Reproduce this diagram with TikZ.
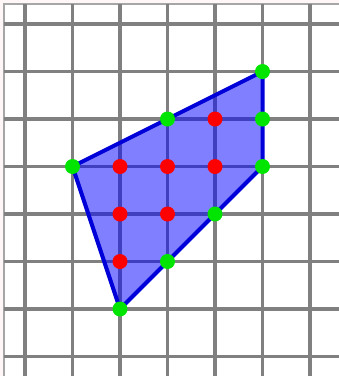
\documentclass[tikz,border=0pt]{standalone}
\begin{document}
\begin{tikzpicture}[x=1pt,y=-1pt,
  gridline/.style={draw=gray, line width=3.3pt},
  frameline/.style={draw=gray!70, line width=2.5pt},
  poly/.style={draw=blue!85!black, line width=4pt, fill=blue, fill opacity=0.5, line join=round},
  bnd/.style={circle, fill=green!90!black, inner sep=0pt, minimum size=15pt},
  inn/.style={circle, fill=red, inner sep=0pt, minimum size=15pt}]
\fill[red!3] (0,0) rectangle (339,376);
\fill[white] (4,4) rectangle (339,376);
\useasboundingbox (0,0) rectangle (339,376);
% frame
\draw[frameline] (4,376) -- (4,4) -- (339,4);
% grid
\foreach \i in {0,...,6} \draw[gridline] (25+47.5*\i,4) -- (25+47.5*\i,376);
\foreach \j in {0,...,7} \draw[gridline] (4,24+47.5*\j) -- (339,24+47.5*\j);
% lattice coordinates
\foreach \i in {0,...,6} \foreach \j in {0,...,7}
  \coordinate (p\i\j) at (25+47.5*\i,24+47.5*\j);
% polygon
\draw[poly] (p13) -- (p51) -- (p53) -- (p26) -- cycle;
% boundary points
\foreach \c in {13,32,51,52,53,44,35,26} \node[bnd] (g\c) at (p\c) {};
% interior points
\foreach \c in {42,23,33,43,24,34,25} \node[inn] (r\c) at (p\c) {};
\end{tikzpicture}
\end{document}
